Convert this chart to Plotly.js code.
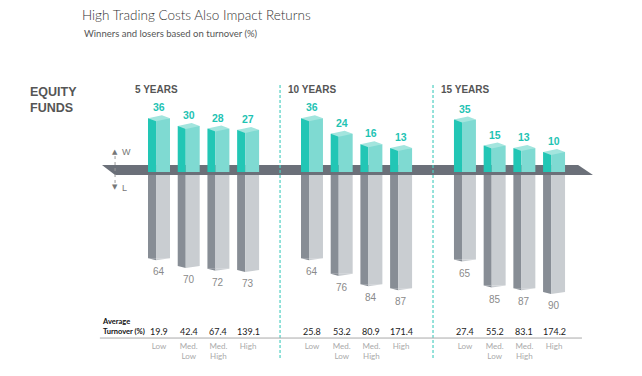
<!DOCTYPE html>
<html><head><meta charset="utf-8">
<script src="https://cdn.plot.ly/plotly-3.0.1.min.js"></script>
<style>html,body{margin:0;padding:0;background:#fff}#chart{width:642px;height:376px}</style>
</head><body><div id="chart"></div>
<script>
// ---- data ----
const periods = ['5 YEARS', '10 YEARS', '15 YEARS'];
const categories = ['Low', 'Med.<br>Low', 'Med.<br>High', 'High'];
const winners5 = [36, 30, 28, 27];
const winners10 = [36, 24, 16, 13];
const winners15 = [35, 15, 13, 10];
const losers5 = [64, 70, 72, 73];
const losers10 = [64, 76, 84, 87];
const losers15 = [65, 85, 87, 90];
const turnover5 = [19.9, 42.4, 67.4, 139.1];
const turnover10 = [25.8, 53.2, 80.9, 171.4];
const turnover15 = [27.4, 55.2, 83.1, 174.2];

const winners = [winners5, winners10, winners15];
const losers = [losers5, losers10, losers15];
const turnover = [turnover5, turnover10, turnover15];

// ---- layout helpers ----
const groupStart = [0, 5.15, 10.3];
const xs = [], W = [], L = [], T = [], cats = [];
periods.forEach((p, g) => {
  categories.forEach((c, i) => {
    xs.push(groupStart[g] + i);
    W.push(winners[g][i]);
    L.push(losers[g][i]);
    T.push(turnover[g][i]);
    cats.push(c);
  });
});

const BAND = 7.7;   // slab thickness (axis units)
const FOOT = 5.4;   // front part of winner bars over slab
const DL = -0.37, DW = 0.27, LL = -0.1, LW = 0.47;
const CAP = 2.3, VB = 1.6;

const COND = '"Liberation Sans", Arial, sans-serif';
const SANS = 'Lato, "Open Sans", sans-serif';

const baseBar = { type: 'bar', x: xs, hoverinfo: 'skip', showlegend: false };
const traces = [
  Object.assign({}, baseBar, { y: xs.map(() => FOOT), base: -FOOT, offset: DL, width: DW, marker: { color: '#22c6b5', line: { width: 0 } } }),
  Object.assign({}, baseBar, { y: xs.map(() => FOOT), base: -FOOT, offset: LL, width: LW, marker: { color: '#7fdad2', line: { width: 0 } } }),
  Object.assign({}, baseBar, { y: W, base: 0, offset: DL, width: DW, marker: { color: '#22c6b5', line: { width: 0 } } }),
  Object.assign({}, baseBar, { y: W, base: 0, offset: LL, width: LW, marker: { color: '#7fdad2', line: { width: 0 } } }),
  Object.assign({}, baseBar, { y: L.map(v => -v), base: -BAND, offset: DL, width: DW, marker: { color: '#878d95', line: { width: 0 } } }),
  Object.assign({}, baseBar, { y: L.map(v => -v), base: -BAND, offset: LL, width: LW, marker: { color: '#c9cdd1', line: { width: 0 } } })
];

// top caps of winner bars and bottom tips of loser bars
const capX = [], capY = [], tdX = [], tdY = [], tlX = [], tlY = [];
xs.forEach((c, k) => {
  const v = W[k];
  capX.push(c + DL, c + LL, c + LL + LW, c + LL + LW - (LL - DL), c + DL, null);
  capY.push(v, v - CAP, v, v + CAP, v, null);
  const b = -L[k] - BAND;
  tdX.push(c + DL, c + LL, c + LL, c + DL, null);
  tdY.push(b, b, b - VB, b, null);
  tlX.push(c + LL, c + LL + LW, c + LL, c + LL, null);
  tlY.push(b, b, b - VB, b, null);
});
traces.push({ type: 'scatter', mode: 'lines', x: capX, y: capY, fill: 'toself', fillcolor: '#a3e5de', line: { width: 0 }, hoverinfo: 'skip', showlegend: false });
traces.push({ type: 'scatter', mode: 'lines', x: tdX, y: tdY, fill: 'toself', fillcolor: '#878d95', line: { width: 0 }, hoverinfo: 'skip', showlegend: false });
traces.push({ type: 'scatter', mode: 'lines', x: tlX, y: tlY, fill: 'toself', fillcolor: '#c9cdd1', line: { width: 0 }, hoverinfo: 'skip', showlegend: false });

const ann = [];
xs.forEach((c, k) => {
  ann.push({ x: c, y: W[k], text: String(W[k]), showarrow: false, yanchor: 'bottom', yshift: 3,
    font: { family: COND, size: 10.5, color: '#1fc3b3', weight: 'bold' } });
  ann.push({ x: c, y: -L[k] - BAND, text: String(L[k]), showarrow: false, yanchor: 'top', yshift: -6,
    font: { family: COND, size: 10, color: '#8a8a8a' } });
  ann.push({ x: c, xref: 'x', y: 0.032, yref: 'paper', text: T[k].toFixed(1), showarrow: false, yanchor: 'middle',
    font: { family: SANS, size: 9, color: '#222' } });
});
periods.forEach((p, g) => {
  ann.push({ x: groupStart[g] - 0.88, y: 57.7, text: p, showarrow: false, xanchor: 'left', yanchor: 'middle',
    font: { family: COND, size: 10, color: '#555', weight: 'bold' } });
});
ann.push({ x: -4.41, y: 50, text: 'EQUITY<br>FUNDS', showarrow: false, xanchor: 'left', align: 'left', yanchor: 'middle',
  font: { family: COND, size: 12.5, color: '#555', weight: 'bold' } });
ann.push({ x: -1.99, xref: 'x', y: 0.048, yref: 'paper', text: 'Average<br>Turnover (%)', showarrow: false, xanchor: 'left', align: 'left', yanchor: 'middle',
  font: { family: SANS, size: 7.5, color: '#111', weight: 'bold' } });
ann.push({ x: -1.48, y: 10, text: '▲', showarrow: false, font: { family: 'DejaVu Sans', size: 7, color: '#777' } });
ann.push({ x: -1.48, y: -16.9, text: '▼', showarrow: false, font: { family: 'DejaVu Sans', size: 7, color: '#777' } });
ann.push({ x: -1.3, y: 10, text: 'W', showarrow: false, xanchor: 'left', font: { family: COND, size: 9, color: '#777' } });
ann.push({ x: -1.3, y: -17.3, text: 'L', showarrow: false, xanchor: 'left', font: { family: COND, size: 9, color: '#777' } });
ann.push({ x: 0.103, xref: 'paper', y: 1.096, yref: 'paper', text: 'Winners and losers based on turnover (%)', showarrow: false,
  xanchor: 'left', yanchor: 'middle', font: { family: SANS, size: 9.5, color: '#555' } });

const div1 = (groupStart[0] + 3 + groupStart[1]) / 2;
const div2 = (groupStart[1] + 3 + groupStart[2]) / 2;
const shapes = [
  { type: 'path', xref: 'x', yref: 'y', path: `M -1.92,0 L 14.11,0 L 14.61,${-BAND} L -1.48,${-BAND} Z`, fillcolor: '#6b7079', line: { width: 0 }, layer: 'below' },
  { type: 'line', xref: 'x', yref: 'paper', x0: div1, x1: div1, y0: -0.064, y1: 0.911, line: { color: '#4fcfc2', width: 1.2, dash: '3px,2px' } },
  { type: 'line', xref: 'x', yref: 'paper', x0: div2, x1: div2, y0: -0.064, y1: 0.911, line: { color: '#4fcfc2', width: 1.2, dash: '3px,2px' } },
  { type: 'line', xref: 'x', yref: 'paper', x0: -1.99, x1: 14.24, y0: 0.007, y1: 0.007, line: { color: '#aaaaaa', width: 1 } },
  { type: 'line', xref: 'x', yref: 'y', x0: -1.48, x1: -1.48, y0: 6.9, y1: -13.8, line: { color: '#999', width: 1, dash: 'dot' } }
];

const layout = {
  width: 642, height: 376,
  margin: { l: 20, r: 22, t: 60, b: 36 },
  paper_bgcolor: '#fff', plot_bgcolor: '#fff',
  barmode: 'overlay',
  showlegend: false,
  title: { text: 'High Trading Costs Also Impact Returns', x: 82 / 642, xanchor: 'left', xref: 'container',
    y: 1 - 15 / 376, yref: 'container', yanchor: 'middle', font: { family: SANS, size: 13.5, color: '#333', weight: 300 } },
  xaxis: { range: [-4.68, 15.52], showgrid: false, zeroline: false, showline: false, ticks: '',
    tickmode: 'array', tickvals: xs, ticktext: cats, tickfont: { family: SANS, size: 8, color: '#aaa' }, fixedrange: true },
  yaxis: { range: [-134.6, 80.77], visible: false, fixedrange: true },
  annotations: ann,
  shapes: shapes
};

Plotly.newPlot('chart', traces, layout, { displayModeBar: false, staticPlot: true });
</script>
</body></html>
